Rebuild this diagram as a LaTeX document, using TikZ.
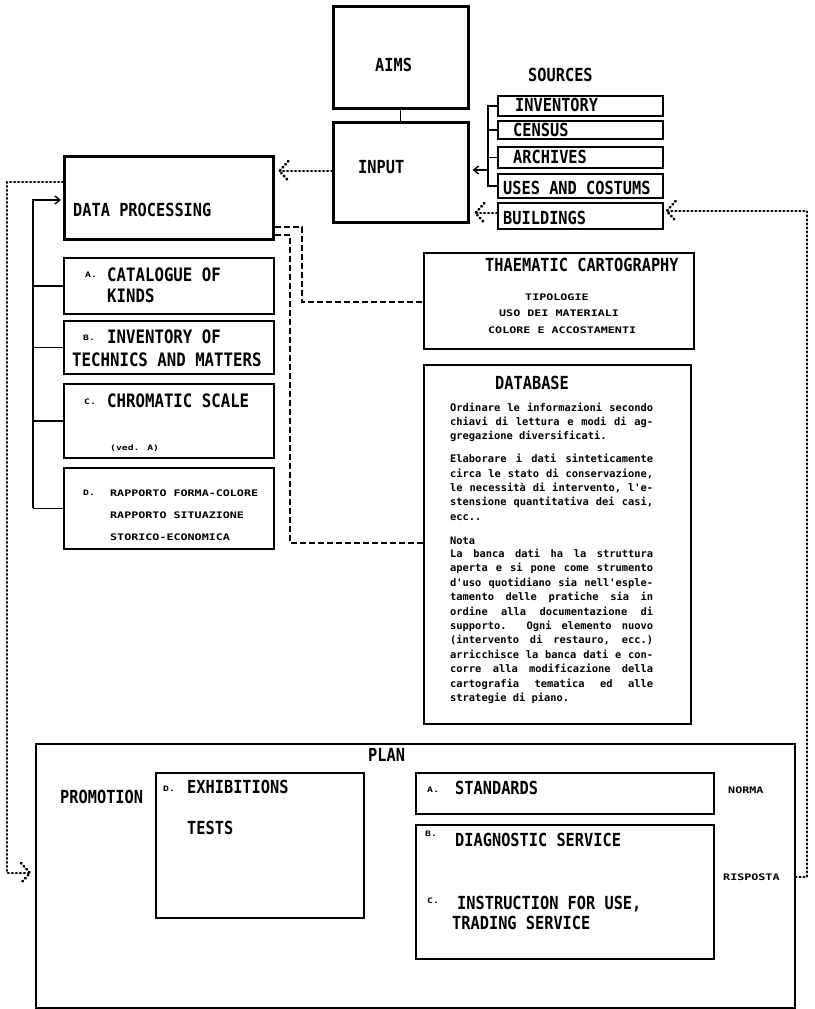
\documentclass[tikz,border=0pt]{standalone}
\usepackage{fontspec}
\usetikzlibrary{arrows.meta,calc}
\newfontfamily\hdfont[FakeStretch=0.85]{DejaVu Sans Mono}
\newfontfamily\smfont[FakeStretch=1.3]{DejaVu Sans Mono}
\newfontfamily\txfont{DejaVu Sans Mono}
\begin{document}
\begin{tikzpicture}[x=1pt,y=-1pt,
  box/.style={draw, line width=1.7pt, anchor=north west, inner sep=0pt},
  bigbox/.style={box, line width=2.5pt},
  hd/.style={anchor=west, inner sep=0pt, font=\hdfont\bfseries\fontsize{18}{18}\selectfont, text height=13pt, text depth=0pt},
  hdb/.style={hd, font=\hdfont\bfseries\fontsize{18.5}{18}\selectfont},
  sm/.style={anchor=west, inner sep=0pt, font=\smfont\bfseries\fontsize{9}{9}\selectfont, text height=6.6pt, text depth=0pt},
  lbl/.style={sm, font=\smfont\bfseries\fontsize{7.5}{7.5}\selectfont, text height=5.4pt},
  dots/.style={line width=2.6pt, line cap=round, dash pattern=on 0.8pt off 3.2pt},
  dsh/.style={line width=2.8pt, dash pattern=on 6pt off 3pt},
  conn/.style={line width=1.4pt},
  tip/.style={-{Straight Barb[length=5pt,width=8pt]}},
  chevL/.pic={\draw[dots] (9,-10) -- (0,0) -- (9,10);},
  chevR/.pic={\draw[dots] (-9,-10) -- (0,0) -- (-9,10);},
]
\fill[white] (0,0) rectangle (814,1009);
\useasboundingbox (0,0) rectangle (814,1009);

% ---------- boxes ----------
\node[bigbox, minimum width=135pt, minimum height=102pt] (aims) at (332,5) {};
\node[bigbox, minimum width=135pt, minimum height=100pt] (input) at (332,121) {};
\node[box, minimum width=165pt, minimum height=20pt] (src1) at (497,95) {};
\node[box, minimum width=165pt, minimum height=18pt] (src2) at (497,120) {};
\node[box, minimum width=165pt, minimum height=21pt] (src3) at (497,146) {};
\node[box, minimum width=165pt, minimum height=24pt] (src4) at (497,173) {};
\node[box, minimum width=165pt, minimum height=26pt] (src5) at (497,202) {};
\node[bigbox, minimum width=209pt, minimum height=83pt] (dp) at (63,155) {};
\node[box, minimum width=210pt, minimum height=56pt] (subA) at (63,257) {};
\node[box, minimum width=210pt, minimum height=53pt] (subB) at (63,320) {};
\node[box, minimum width=210pt, minimum height=74pt] (subC) at (63,383) {};
\node[box, minimum width=210pt, minimum height=81pt] (subD) at (63,467) {};
\node[box, minimum width=270pt, minimum height=96pt] (them) at (423,252) {};
\node[box, minimum width=267pt, minimum height=359pt] (db) at (423,364) {};
\node[box, minimum width=759pt, minimum height=264pt] (plan) at (35,743) {};
\node[box, minimum width=208pt, minimum height=145pt] (exh) at (155,772) {};
\node[box, minimum width=298pt, minimum height=41pt] (std) at (415,772) {};
\node[box, minimum width=298pt, minimum height=134pt] (diag) at (415,824) {};

% ---------- texts ----------
\node[hd] (t-aims) at (375,65) {AIMS};
\node[hd] (t-input) at (358,167) {INPUT};
\node[hd] (t-sources) at (528,75) {SOURCES};
\node[hd] (t-src1) at (515,105) {INVENTORY};
\node[hd] (t-src2) at (513,130) {CENSUS};
\node[hd] (t-src3) at (513,157) {ARCHIVES};
\node[hd] (t-src4) at (503,188) {USES AND COSTUMS};
\node[hd] (t-src5) at (503,218) {BUILDINGS};

\node[hd] (t-dp) at (73,210) {DATA PROCESSING};
\node[lbl] (l-a) at (85,275) {A.};
\node[hdb] (t-a1) at (107,275) {CATALOGUE OF};
\node[hdb] (t-a2) at (107,296) {KINDS};
\node[lbl] (l-b) at (83,338) {B.};
\node[hdb] (t-b1) at (107,337) {INVENTORY OF};
\node[hdb] (t-b2) at (72,360) {TECHNICS AND MATTERS};
\node[lbl] (l-c) at (84,402) {C.};
\node[hdb] (t-c1) at (107,401) {CHROMATIC SCALE};
\node[lbl] (t-c2) at (110,448) {(ved. A)};
\node[lbl] (l-d) at (83,493) {D.};
\node[sm] (t-d1) at (110,493) {RAPPORTO FORMA-COLORE};
\node[sm] (t-d2) at (110,515) {RAPPORTO SITUAZIONE};
\node[sm] (t-d3) at (110,537) {STORICO-ECONOMICA};

\node[hd] (t-them) at (485,265) {THAEMATIC CARTOGRAPHY};
\node[sm] (t-th1) at (525,297) {TIPOLOGIE};
\node[sm] (t-th2) at (499,313) {USO DEI MATERIALI};
\node[sm] (t-th3) at (488,330) {COLORE E ACCOSTAMENTI};

\node[hd] (t-db) at (495,383) {DATABASE};
\node[anchor=base west, inner sep=0pt, font=\txfont\bfseries\fontsize{10.4}{14.4}\selectfont] (dbtext) at (450,411) {\parbox[t]{203pt}{%
\makebox[203pt][s]{Ordinare le informazioni secondo}\\
\makebox[203pt][s]{chiavi di lettura e modi di ag-}\\
gregazione diversificati.\\[8.5pt]
\makebox[203pt][s]{Elaborare i dati sinteticamente}\\
\makebox[203pt][s]{circa le stato di conservazione,}\\
\makebox[203pt][s]{le necessità di intervento, l'e-}\\
\makebox[203pt][s]{stensione quantitativa dei casi,}\\
ecc..\\[9.5pt]
Nota\\[-1.2pt]
\makebox[203pt][s]{La banca dati ha la struttura}\\
\makebox[203pt][s]{aperta e si pone come strumento}\\
\makebox[203pt][s]{d'uso quotidiano sia nell'esple-}\\
\makebox[203pt][s]{tamento delle pratiche sia in}\\
\makebox[203pt][s]{ordine alla documentazione di}\\
\makebox[203pt][s]{supporto. Ogni elemento nuovo}\\
\makebox[203pt][s]{(intervento di restauro, ecc.)}\\
\makebox[203pt][s]{arricchisce la banca dati e con-}\\
\makebox[203pt][s]{corre alla modificazione della}\\
\makebox[203pt][s]{cartografia tematica ed alle}\\
strategie di piano.}};

\node[hd] (t-plan) at (368,755) {PLAN};
\node[hd] (t-prom) at (60,797) {PROMOTION};
\node[lbl] (l-pd) at (163,789) {D.};
\node[hd] (t-exh) at (187,787) {EXHIBITIONS};
\node[hd] (t-tests) at (187,828) {TESTS};
\node[lbl] (l-pa) at (427,790) {A.};
\node[hd] (t-std) at (455,788) {STANDARDS};
\node[sm] (t-norma) at (728,790) {NORMA};
\node[lbl] (l-pb) at (425,834) {B.};
\node[hd] (t-diag) at (455,840) {DIAGNOSTIC SERVICE};
\node[lbl] (l-pc) at (427,901) {C.};
\node[hd] (t-instr) at (457,903) {INSTRUCTION FOR USE,};
\node[hd] (t-trad) at (452,923) {TRADING SERVICE};
\node[sm] (t-risp) at (723,877) {RISPOSTA};

% ---------- solid connectors ----------
\draw[conn] (aims.south) -- (input.north);
\coordinate (bk) at (488,170);
\draw[conn] (src1.west) -- (src1.west -| bk) -- (src4.west -| bk) -- (src4.west);
\draw[conn] (src2.west) -- (src2.west -| bk);
\draw[conn] (src3.west) -- (src3.west -| bk);
\draw[conn, tip] (bk) -- ($(bk -| input.east)+(3,0)$);

\coordinate (lb) at (33,200);
\draw[conn, tip] (lb |- subD.west) -- (lb) -- ($(lb -| dp.west)+(-2,0)$);
\foreach \s in {subA,subB,subC,subD} \draw[conn] (\s.west) -- (\s.west -| lb);

% ---------- dotted connectors ----------
\coordinate (c1) at (0,171);
\draw[dots] (c1 -| input.west) -- ($(c1 -| dp.east)+(5,0)$);
\pic at ($(c1 -| dp.east)+(5,0)$) {chevL};

\coordinate (c2) at (0,213);
\draw[dots] (c2 -| src5.west) -- ($(c2 -| input.east)+(6,0)$);
\pic at ($(c2 -| input.east)+(6,0)$) {chevL};

\coordinate (rr) at (807,877);
\coordinate (c3) at (0,211);
\draw[dots] (rr -| plan.east) -- (rr) -- (rr |- c3) -- ($(c3 -| src5.east)+(3,0)$);
\pic at ($(c3 -| src5.east)+(3,0)$) {chevL};

\coordinate (ll) at (7,182);
\coordinate (c4) at (0,873);
\draw[dots] (ll -| dp.west) -- (ll) -- (ll |- c4) -- ($(c4 -| plan.west)+(-5,0)$);
\pic at ($(c4 -| plan.west)+(-5,0)$) {chevR};

% ---------- dashed connectors ----------
\coordinate (d1) at (302,227);
\coordinate (t1) at (0,302);
\draw[dsh] (d1 -| dp.east) -- (d1) -- (d1 |- t1) -- (t1 -| them.west);
\coordinate (d2) at (290,235);
\coordinate (t2) at (0,543);
\draw[dsh] (d2 -| dp.east) -- (d2) -- (d2 |- t2) -- (t2 -| db.west);
\end{tikzpicture}
\end{document}
